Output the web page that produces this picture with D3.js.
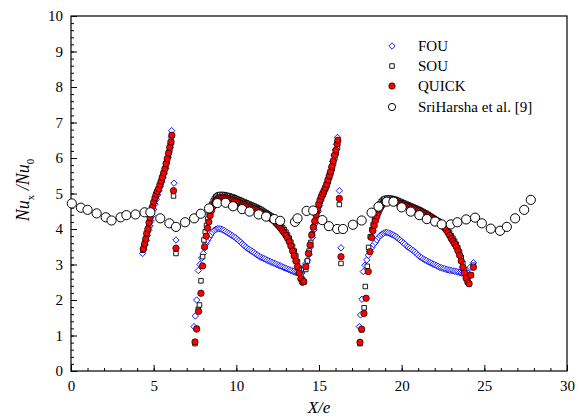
<!DOCTYPE html>
<html>
<head>
<meta charset="utf-8">
<script src="https://cdn.jsdelivr.net/npm/d3@7"></script>
<style>
body { margin: 0; background: #fff; }
text { font-family: "Liberation Serif", "Times New Roman", serif; }
</style>
</head>
<body>
<div id="chart"></div>
<script>
// series: [X/e, Nu_x/Nu_0]
var fou = [
  [4.33,3.31],[4.40,3.42],[4.48,3.55],[4.55,3.68],[4.62,3.82],[4.70,3.96],[4.78,4.08],[4.85,4.22],[4.92,4.38],[5.00,4.55],
  [5.08,4.70],[5.16,4.84],[5.24,4.96],[5.32,5.08],[5.40,5.20],[5.48,5.32],[5.56,5.44],[5.64,5.56],[5.72,5.70],[5.80,5.86],
  [5.88,6.02],[5.95,6.20],[6.02,6.40],[6.06,6.58],[6.09,6.77],[6.23,5.29],[6.35,3.69],
  [7.44,1.25],[7.52,1.55],[7.60,2.00],[7.70,2.83],[7.80,3.00],[7.90,3.18],[8.00,3.31],[8.08,3.46],[8.17,3.59],[8.26,3.68],
  [8.36,3.76],[8.46,3.84],[8.56,3.91],[8.66,3.96],[8.76,3.99],[8.86,4.01],[8.96,4.01],[9.06,4.00],[9.16,3.98],[9.26,3.96],
  [9.36,3.93],[9.46,3.90],[9.56,3.87],[9.66,3.84],[9.76,3.81],[9.86,3.78],[9.96,3.75],[10.06,3.71],[10.16,3.67],[10.26,3.63],
  [10.36,3.58],[10.46,3.54],[10.56,3.50],[10.66,3.46],[10.76,3.43],[10.86,3.40],[10.96,3.37],[11.06,3.34],[11.16,3.30],
  [11.26,3.27],[11.36,3.24],[11.46,3.21],[11.56,3.19],[11.66,3.17],[11.76,3.15],[11.86,3.12],[11.96,3.10],[12.06,3.08],
  [12.16,3.06],[12.26,3.04],[12.36,3.02],[12.46,3.00],[12.56,2.98],[12.66,2.96],[12.76,2.94],[12.86,2.92],[12.96,2.90],
  [13.06,2.88],[13.16,2.86],[13.26,2.84],[13.36,2.82],[13.46,2.80],[13.56,2.78],[13.66,2.77],[13.76,2.76],[13.86,2.75],[13.96,2.76],
  [14.10,2.86],[14.20,3.02],[14.30,3.12],[14.40,3.28],[14.50,3.50],[14.60,3.76],[14.70,3.98],[14.80,4.16],[14.88,4.32],[14.96,4.50],
  [15.04,4.66],[15.12,4.80],[15.20,4.92],[15.28,5.02],[15.36,5.12],[15.44,5.22],[15.52,5.34],[15.60,5.46],[15.68,5.60],[15.76,5.74],
  [15.84,5.90],[15.92,6.06],[16.00,6.22],[16.06,6.38],[16.12,6.58],[16.23,5.08],[16.33,3.47],
  [17.44,1.25],[17.52,1.58],[17.60,2.02],[17.68,2.80],[17.78,2.98],[17.89,3.13],[17.98,3.26],[18.09,3.36],[18.20,3.48],[18.30,3.56],
  [18.40,3.62],[18.50,3.69],[18.60,3.76],[18.70,3.81],[18.80,3.85],[18.90,3.88],[19.00,3.90],[19.10,3.90],[19.20,3.89],[19.30,3.87],
  [19.40,3.85],[19.50,3.83],[19.60,3.80],[19.70,3.77],[19.80,3.73],[19.90,3.69],[20.00,3.65],[20.10,3.61],[20.20,3.57],[20.30,3.52],
  [20.40,3.49],[20.50,3.46],[20.60,3.42],[20.70,3.39],[20.80,3.35],[20.90,3.31],[21.00,3.26],[21.10,3.22],[21.20,3.19],[21.30,3.16],
  [21.40,3.13],[21.50,3.11],[21.60,3.08],[21.70,3.06],[21.80,3.04],[21.90,3.01],[22.00,2.99],[22.10,2.97],[22.20,2.95],[22.30,2.92],
  [22.40,2.91],[22.50,2.89],[22.60,2.88],[22.70,2.86],[22.80,2.85],[22.90,2.84],[23.00,2.83],[23.10,2.82],[23.20,2.81],[23.30,2.80],
  [23.40,2.79],[23.50,2.77],[23.60,2.76],[23.70,2.75],[23.80,2.74],[23.90,2.73],[24.00,2.76],[24.14,2.92],[24.34,3.05]
];

var sou = [
  [4.35,3.40],[4.42,3.52],[4.50,3.66],[4.57,3.82],[4.64,3.96],[4.70,4.10],[4.77,4.26],[4.84,4.42],[4.91,4.56],[4.98,4.70],
  [5.06,4.83],[5.13,4.94],[5.21,5.03],[5.29,5.11],[5.36,5.20],[5.44,5.30],[5.51,5.41],[5.59,5.52],[5.66,5.64],[5.74,5.77],
  [5.81,5.90],[5.89,6.05],[5.96,6.20],[6.03,6.33],[6.08,6.45],[6.20,4.93],[6.35,3.31],
  [7.50,0.77],[7.60,1.20],[7.70,1.74],[7.77,1.86],[7.86,2.54],[7.96,3.22],[8.04,3.69],[8.12,3.92],[8.20,4.10],[8.28,4.28],
  [8.36,4.44],[8.44,4.58],[8.52,4.70],[8.60,4.79],[8.68,4.86],[8.76,4.91],[8.84,4.94],[8.92,4.96],[9.00,4.97],[9.10,4.97],
  [9.20,4.97],[9.30,4.96],[9.40,4.95],[9.50,4.94],[9.60,4.93],[9.70,4.91],[9.80,4.90],[9.90,4.88],[10.00,4.86],[10.10,4.84],
  [10.20,4.82],[10.30,4.80],[10.40,4.78],[10.50,4.76],[10.60,4.74],[10.70,4.72],[10.80,4.70],[10.90,4.68],[11.00,4.66],
  [11.10,4.64],[11.20,4.62],[11.30,4.60],[11.40,4.57],[11.50,4.55],[11.60,4.52],[11.70,4.49],[11.80,4.46],[11.90,4.43],
  [12.00,4.40],[12.10,4.37],[12.20,4.34],[12.30,4.30],[12.40,4.26],[12.50,4.21],[12.60,4.16],[12.70,4.10],[12.80,4.04],
  [12.90,3.98],[13.00,3.91],[13.10,3.83],[13.20,3.74],[13.30,3.63],[13.40,3.51],[13.50,3.38],[13.60,3.24],[13.70,3.08],
  [13.80,2.90],[13.90,2.72],[14.00,2.58],[14.08,2.50],
  [14.20,2.86],[14.30,3.10],[14.40,3.38],[14.50,3.62],[14.60,3.86],[14.68,4.05],[14.76,4.22],[14.84,4.38],[14.92,4.52],[15.00,4.66],
  [15.08,4.78],[15.16,4.88],[15.24,4.96],[15.32,5.04],[15.40,5.13],[15.48,5.22],[15.56,5.33],[15.64,5.45],[15.72,5.57],[15.80,5.70],
  [15.88,5.85],[15.96,6.00],[16.04,6.14],[16.12,6.30],[16.23,4.69],[16.33,3.03],
  [17.48,0.77],[17.58,1.16],[17.73,1.78],[17.80,2.38],[17.92,2.95],[18.00,3.48],[18.10,3.78],[18.20,3.98],[18.28,4.13],[18.36,4.28],
  [18.44,4.42],[18.52,4.54],[18.60,4.63],[18.68,4.71],[18.76,4.77],[18.84,4.81],[18.92,4.84],[19.00,4.86],[19.10,4.87],[19.20,4.87],
  [19.30,4.87],[19.40,4.86],[19.50,4.85],[19.60,4.84],[19.70,4.82],[19.80,4.80],[19.90,4.78],[20.00,4.76],[20.10,4.74],[20.20,4.72],
  [20.30,4.70],[20.40,4.68],[20.50,4.66],[20.60,4.64],[20.70,4.62],[20.80,4.60],[20.90,4.58],[21.00,4.56],[21.10,4.54],[21.20,4.51],
  [21.30,4.49],[21.40,4.46],[21.50,4.44],[21.60,4.41],[21.70,4.38],[21.80,4.35],[21.90,4.32],[22.00,4.29],[22.10,4.26],[22.20,4.23],
  [22.30,4.20],[22.40,4.16],[22.50,4.12],[22.60,4.07],[22.70,4.02],[22.80,3.96],[22.90,3.89],[23.00,3.81],[23.10,3.74],[23.20,3.66],
  [23.30,3.57],[23.40,3.47],[23.50,3.35],[23.60,3.20],[23.70,3.03],[23.80,2.86],[23.90,2.70],[24.00,2.56],[24.08,2.45],
  [24.20,2.70],[24.34,2.98]
];

var quick = [
  [4.37,3.44],[4.45,3.58],[4.52,3.72],[4.58,3.88],[4.65,4.00],[4.72,4.18],[4.78,4.32],[4.85,4.48],[4.92,4.62],[5.00,4.76],
  [5.08,4.88],[5.15,4.98],[5.22,5.06],[5.30,5.14],[5.38,5.25],[5.45,5.35],[5.52,5.46],[5.60,5.58],[5.68,5.70],[5.75,5.84],
  [5.82,5.98],[5.90,6.14],[5.97,6.30],[6.04,6.45],[6.10,6.64],[6.20,5.08],[6.35,3.46],
  [7.50,0.82],[7.60,1.18],[7.72,1.68],[7.86,2.19],[7.96,2.96],[8.08,3.50],[8.18,3.80],[8.26,4.02],[8.34,4.20],[8.42,4.38],
  [8.50,4.52],[8.58,4.63],[8.66,4.72],[8.74,4.78],[8.82,4.83],[8.90,4.86],[9.00,4.88],[9.10,4.89],[9.20,4.89],[9.30,4.88],
  [9.40,4.87],[9.50,4.86],[9.60,4.85],[9.70,4.83],[9.80,4.82],[9.90,4.80],[10.00,4.78],[10.10,4.76],[10.20,4.74],[10.30,4.72],
  [10.40,4.70],[10.50,4.68],[10.60,4.66],[10.70,4.64],[10.80,4.62],[10.90,4.60],[11.00,4.58],[11.10,4.56],[11.20,4.54],
  [11.30,4.52],[11.40,4.49],[11.50,4.47],[11.60,4.44],[11.70,4.41],[11.80,4.38],[11.90,4.35],[12.00,4.32],[12.10,4.29],
  [12.20,4.26],[12.30,4.22],[12.40,4.17],[12.50,4.12],[12.60,4.07],[12.70,4.01],[12.80,3.95],[12.90,3.89],[13.00,3.82],
  [13.10,3.74],[13.20,3.64],[13.30,3.52],[13.40,3.38],[13.50,3.24],[13.60,3.10],[13.70,2.94],[13.80,2.76],[13.90,2.60],
  [14.00,2.50],[14.08,2.52],
  [14.20,2.94],[14.36,3.31],[14.46,3.55],[14.56,3.83],[14.66,4.05],[14.74,4.22],[14.82,4.40],[14.90,4.56],[14.98,4.70],[15.06,4.82],
  [15.14,4.92],[15.22,5.00],[15.30,5.08],[15.38,5.16],[15.46,5.26],[15.54,5.38],[15.62,5.50],[15.70,5.62],[15.78,5.76],[15.86,5.92],
  [15.94,6.08],[16.02,6.22],[16.10,6.40],[16.14,6.50],[16.23,4.86],[16.33,3.22],
  [17.48,0.81],[17.58,1.18],[17.72,1.62],[17.85,2.05],[17.98,2.80],[18.08,3.36],[18.18,3.76],[18.26,3.95],[18.34,4.10],[18.42,4.24],
  [18.50,4.36],[18.58,4.46],[18.66,4.55],[18.74,4.62],[18.82,4.68],[18.90,4.73],[19.00,4.76],[19.10,4.78],[19.20,4.79],[19.30,4.79],
  [19.40,4.78],[19.50,4.77],[19.60,4.76],[19.70,4.74],[19.80,4.73],[19.90,4.71],[20.00,4.69],[20.10,4.67],[20.20,4.66],[20.30,4.64],
  [20.40,4.63],[20.50,4.61],[20.60,4.60],[20.70,4.58],[20.80,4.56],[20.90,4.54],[21.00,4.52],[21.10,4.50],[21.20,4.48],[21.30,4.45],
  [21.40,4.43],[21.50,4.40],[21.60,4.38],[21.70,4.35],[21.80,4.32],[21.90,4.29],[22.00,4.27],[22.10,4.24],[22.20,4.21],[22.30,4.17],
  [22.40,4.13],[22.50,4.08],[22.60,4.03],[22.70,3.97],[22.80,3.90],[22.90,3.82],[23.00,3.73],[23.10,3.66],[23.20,3.58],[23.30,3.50],
  [23.40,3.39],[23.50,3.26],[23.60,3.10],[23.70,2.92],[23.80,2.76],[23.90,2.61],[24.00,2.50],[24.08,2.46],
  [24.18,2.70],[24.34,2.92]
];

var sriHarsha = [
  [0.05,4.72],[0.60,4.60],[1.00,4.54],[1.55,4.44],[2.10,4.33],[2.45,4.24],[3.00,4.33],[3.35,4.39],[3.90,4.41],[4.45,4.47],
  [4.80,4.47],[5.40,4.30],[5.95,4.16],[6.35,4.06],[6.90,4.19],[7.45,4.30],[7.85,4.43],[8.35,4.58],[8.85,4.73],[9.35,4.74],
  [9.80,4.64],[10.35,4.56],[10.80,4.49],[11.35,4.41],[11.80,4.35],[12.30,4.28],[12.65,4.23],[13.55,4.20],[13.70,4.30],[14.25,4.51],
  [14.65,4.52],[15.20,4.25],[15.60,4.08],[16.10,4.00],[16.45,4.00],[17.05,4.12],[17.58,4.24],[18.18,4.46],[18.60,4.63],[19.10,4.77],
  [19.50,4.77],[20.00,4.61],[20.55,4.49],[21.07,4.39],[21.52,4.28],[22.02,4.21],[22.42,4.13],[22.97,4.13],[23.37,4.19],[23.90,4.27],
  [24.44,4.32],[24.85,4.16],[25.39,4.01],[25.95,3.95],[26.36,4.06],[26.86,4.30],[27.41,4.54],[27.81,4.82]
];

var legendNames = ["FOU", "SOU", "QUICK", "SriHarsha et al. [9]"];
var xMajor = [0, 5, 10, 15, 20, 25, 30];
var yMajor = [0, 1, 2, 3, 4, 5, 6, 7, 8, 9, 10];

var W = 582, H = 418;
var plotL = 71, plotR = 567, plotT = 16, plotB = 371;

var svg = d3.select("#chart").append("svg")
    .attr("width", W).attr("height", H);

var x = d3.scaleLinear().domain([0, 30]).range([plotL, plotR]);
var y = d3.scaleLinear().domain([0, 10]).range([plotB, plotT]);

// minor ticks (inside)
svg.append("g")
    .attr("transform", "translate(0," + plotB + ")")
    .call(d3.axisBottom(x).tickValues(d3.range(0, 31, 1)).tickSize(-3).tickFormat(""))
    .call(function(g) { g.select(".domain").remove(); });
svg.append("g")
    .attr("transform", "translate(" + plotL + ",0)")
    .call(d3.axisLeft(y).tickValues(d3.range(0, 51, 1).map(function(d) { return d / 5; })).tickSize(-3).tickFormat(""))
    .call(function(g) { g.select(".domain").remove(); });

// major ticks with labels
var xAxis = svg.append("g")
    .attr("transform", "translate(0," + plotB + ")")
    .call(d3.axisBottom(x).tickValues(xMajor).tickSize(-6).tickPadding(9).tickFormat(d3.format("d")));
var yAxis = svg.append("g")
    .attr("transform", "translate(" + plotL + ",0)")
    .call(d3.axisLeft(y).tickValues(yMajor).tickSize(-6).tickPadding(8).tickFormat(d3.format("d")));

[xAxis, yAxis].forEach(function(g) {
    g.select(".domain").remove();
    g.selectAll("text").attr("font-size", 15).attr("fill", "#000")
        .style("font-family", "'Liberation Serif', serif");
});
svg.selectAll(".tick line").attr("stroke", "#000").attr("stroke-width", 1);

svg.append("rect")
    .attr("x", plotL).attr("y", plotT)
    .attr("width", plotR - plotL).attr("height", plotB - plotT)
    .attr("fill", "none").attr("stroke", "#000").attr("stroke-width", 1.2);

var diamond = d3.symbol().type(d3.symbolDiamond2).size(26);
var square = d3.symbol().type(d3.symbolSquare2).size(26);

function drawDiamonds(g, data) {
    g.selectAll("path").data(data).enter().append("path")
        .attr("d", diamond)
        .attr("transform", function(d) { return "translate(" + x(d[0]) + "," + y(d[1]) + ")"; })
        .attr("fill", "#fff").attr("stroke", "#0000ff").attr("stroke-width", 0.9);
}
function drawSquares(g, data) {
    g.selectAll("path").data(data).enter().append("path")
        .attr("d", square)
        .attr("transform", function(d) { return "translate(" + x(d[0]) + "," + y(d[1]) + ")"; })
        .attr("fill", "#fff").attr("stroke", "#000").attr("stroke-width", 0.9);
}

drawDiamonds(svg.append("g"), fou);
drawSquares(svg.append("g"), sou);

svg.append("g").selectAll("circle").data(quick).enter().append("circle")
    .attr("cx", function(d) { return x(d[0]); })
    .attr("cy", function(d) { return y(d[1]); })
    .attr("r", 3.2)
    .attr("fill", "#ff0000").attr("stroke", "#000").attr("stroke-width", 0.7);

svg.append("g").selectAll("circle").data(sriHarsha).enter().append("circle")
    .attr("cx", function(d) { return x(d[0]); })
    .attr("cy", function(d) { return y(d[1]); })
    .attr("r", 4.6)
    .attr("fill", "#fff").attr("stroke", "#000").attr("stroke-width", 1);

// legend
var lg = svg.append("g");
var rows = [46, 66, 86, 107];
legendNames.forEach(function(name, i) {
    var cx = 392, cy = rows[i];
    if (i === 0) {
        lg.append("path").attr("d", diamond).attr("transform", "translate(" + cx + "," + cy + ")")
            .attr("fill", "#fff").attr("stroke", "#0000ff").attr("stroke-width", 0.9);
    } else if (i === 1) {
        lg.append("path").attr("d", square).attr("transform", "translate(" + cx + "," + cy + ")")
            .attr("fill", "#fff").attr("stroke", "#000").attr("stroke-width", 0.9);
    } else if (i === 2) {
        lg.append("circle").attr("cx", cx).attr("cy", cy).attr("r", 3.2)
            .attr("fill", "#ff0000").attr("stroke", "#000").attr("stroke-width", 0.7);
    } else {
        lg.append("circle").attr("cx", cx).attr("cy", cy).attr("r", 3.6)
            .attr("fill", "#fff").attr("stroke", "#000").attr("stroke-width", 1);
    }
    lg.append("text").attr("x", 418).attr("y", cy + 5)
        .attr("font-size", 15).text(name);
});

// axis titles
svg.append("text")
    .attr("x", 319).attr("y", 413)
    .attr("text-anchor", "middle")
    .attr("font-size", 17).attr("font-style", "italic")
    .text("X/e");

var yt = svg.append("text")
    .attr("transform", "translate(29,190) rotate(-90)")
    .attr("text-anchor", "middle")
    .attr("font-size", 18);
yt.append("tspan").attr("font-style", "italic").text("Nu");
yt.append("tspan").attr("font-size", 11).attr("dy", 5).text("x");
yt.append("tspan").attr("font-style", "italic").attr("dy", -5).text(" /Nu");
yt.append("tspan").attr("font-size", 11).attr("dy", 5).text("0");
</script>
</body>
</html>
